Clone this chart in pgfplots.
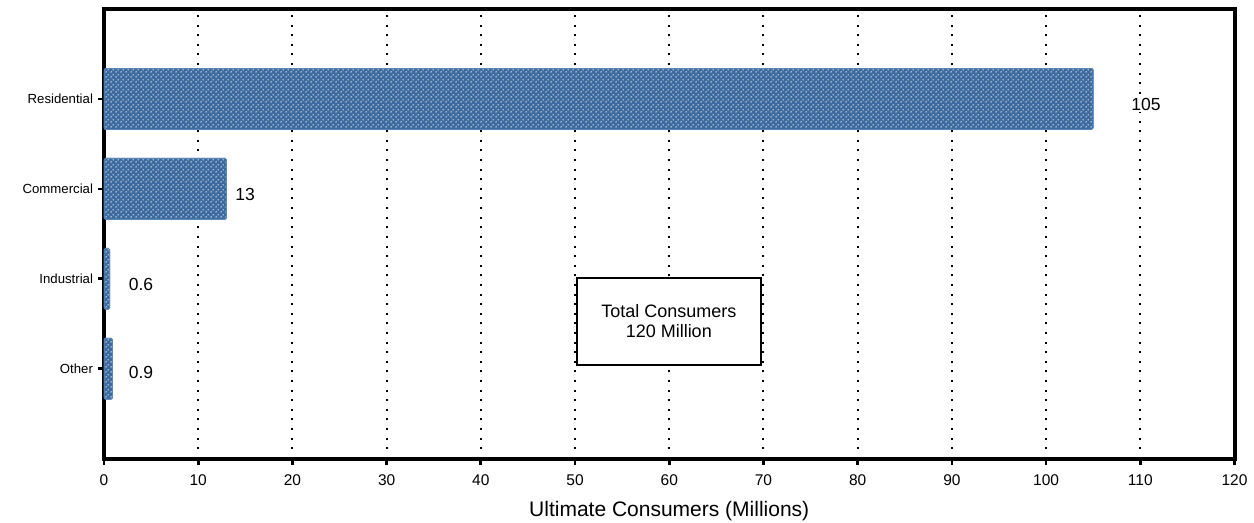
\documentclass[border=0pt]{standalone}
\usepackage{pgfplots}
\pgfplotsset{compat=1.18}
\usepackage{fontspec}
\setmainfont{Liberation Sans}
\usetikzlibrary{patterns}

\definecolor{barblue}{HTML}{3D6B9F}
\definecolor{baredge}{HTML}{5A86B6}

% white dots on the bars, staggered rows
\pgfdeclarepatternformonly{whitedots}{\pgfpointorigin}{\pgfpoint{5pt}{5pt}}{\pgfpoint{5pt}{5pt}}{%
  \pgfpathcircle{\pgfpoint{1.25pt}{1.25pt}}{0.85pt}%
  \pgfpathcircle{\pgfpoint{3.75pt}{3.75pt}}{0.85pt}%
  \pgfusepath{fill}}

\begin{document}
\begin{tikzpicture}
  \begin{axis}[
    scale only axis,
    width=1130.5pt, height=449.7pt,
    xmin=0, xmax=120,
    ymin=0, ymax=5,
    xtick={0,10,...,120},
    ytick={1,2,3,4},
    yticklabels={Other,Industrial,Commercial,Residential},
    xtick pos=bottom, ytick pos=left,
    tick align=outside,
    major tick length=6pt,
    every tick/.style={black, line width=2.7pt},
    axis line style={black, line width=4pt},
    xmajorgrids,
    grid style={black, line width=2pt, dash pattern=on 2pt off 7.6pt},
    /pgf/number format/assume math mode=true,
    xticklabel style={font=\fontsize{15.5}{17}\selectfont, yshift=-6pt},
    yticklabel style={font=\fontsize{13.2}{15}\selectfont, xshift=-1.5pt},
    xlabel={Ultimate Consumers (Millions)},
    xlabel style={font=\fontsize{21}{23}\selectfont, at={(axis description cs:0.5,0)}, anchor=center, yshift=-52pt},
  ]
    \addplot[xbar, bar width=61pt, fill=barblue, draw=baredge, line width=0.8pt,
      rounded corners=1.5pt,
      postaction={pattern=whitedots, pattern color=white}]
      coordinates {(105,4) (13,3) (0.6,2) (0.9,1)};

    \node[fill=white, inner sep=1.5pt, font=\fontsize{17.5}{17.5}\selectfont] at (axis cs:110.6,3.94) {105};
    \node[font=\fontsize{17.5}{17.5}\selectfont] at (axis cs:14.97,2.94) {13};
    \node[font=\fontsize{17.5}{17.5}\selectfont] at (axis cs:3.93,1.94) {0.6};
    \node[font=\fontsize{17.5}{17.5}\selectfont] at (axis cs:3.93,0.96) {0.9};

    \draw[black, line width=2pt, fill=white] (axis cs:50.2,1.04) rectangle (axis cs:69.7,2.01);
    \node[align=center, font=\fontsize{18}{20}\selectfont] at (axis cs:59.95,1.53) {Total Consumers\\120 Million};
  \end{axis}
  \pgfresetboundingbox
  \path ([xshift=-104pt,yshift=-63.3pt]current axis.south west) rectangle ([xshift=19.5pt,yshift=9pt]current axis.north east);
\end{tikzpicture}
\end{document}
